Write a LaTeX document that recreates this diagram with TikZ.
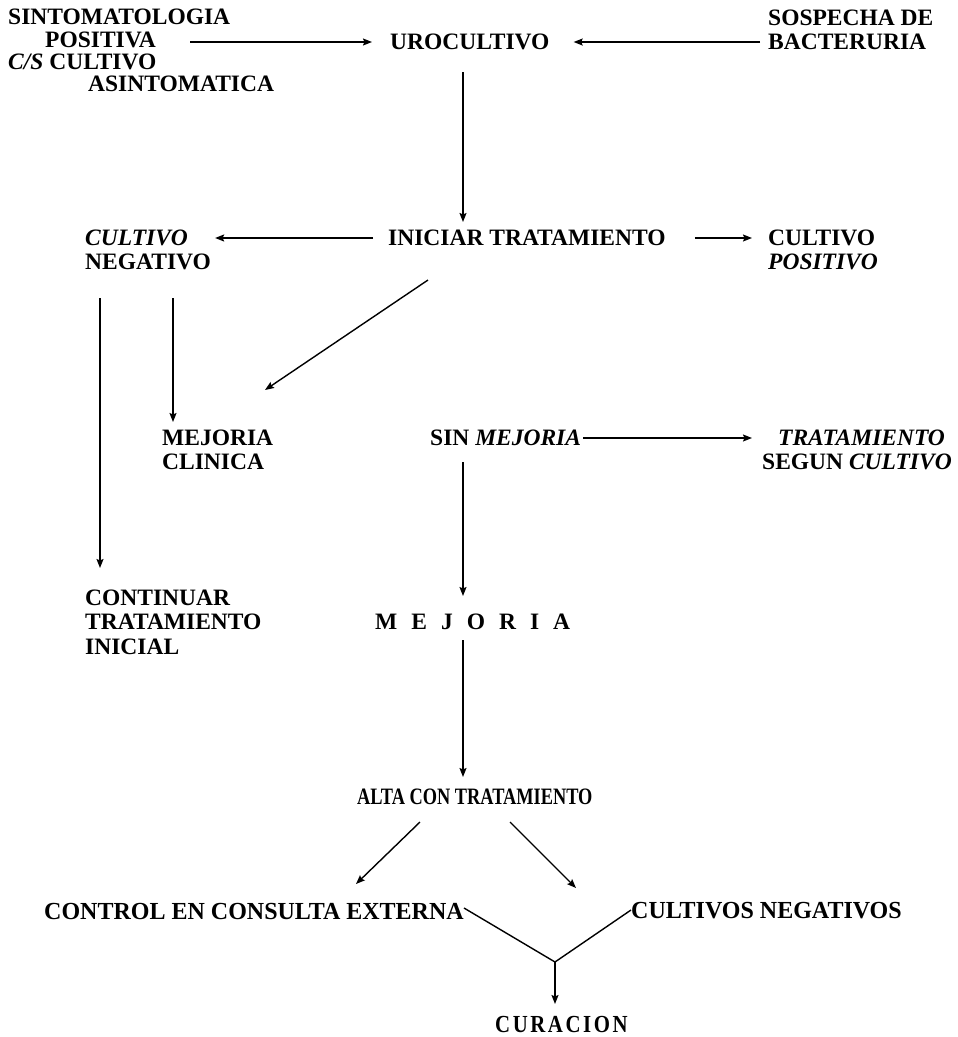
\documentclass[tikz,border=0pt]{standalone}
\usepackage{fontspec}
\setmainfont{Liberation Serif}
\usetikzlibrary{arrows.meta}
\begin{document}
\begin{tikzpicture}[x=1pt,y=-1pt,
  t/.style={font=\fontsize{23.5}{24.5}\selectfont\bfseries, inner sep=0pt, anchor=west, align=left},
  tb/.style={t, font=\fontsize{24.5}{26}\selectfont\bfseries},
  arr/.style={-{Stealth[length=9pt,width=7pt,inset=1.5pt]}, line width=1.4pt},
  ln/.style={line width=1.4pt}]
\useasboundingbox (0,0) rectangle (958,1037);
% top left block
\node[t] (s1) at (8,17) {SINTOMATOLOGIA};
\node[t] (s2) at (45,40) {POSITIVA};
\node[t] (s3) at (8,62) {\textit{C/S} CULTIVO};
\node[t] (s4) at (88,84) {ASINTOMATICA};
\node[t] (uro) at (390,42) {UROCULTIVO};
\node[t] (sos) at (768,30) {SOSPECHA DE\\BACTERURIA};
\node[t] (ini) at (388,238) {INICIAR TRATAMIENTO};
\node[t] (cneg) at (85,250) {\textit{CULTIVO}\\NEGATIVO};
\node[t] (cpos) at (768,250) {CULTIVO\\\textit{POSITIVO}};
\node[t] (mcl) at (162,450) {MEJORIA\\CLINICA};
\node[t] (sinm) at (430,438) {SIN \textit{MEJORIA}};
\node[t] (tsc) at (762,450) {\hspace*{16pt}\textit{TRATAMIENTO}\\SEGUN \textit{CULTIVO}};
\node[t] (cont) at (85,622) {CONTINUAR\\TRATAMIENTO\\INICIAL};
\node[t] (mej) at (375,622) {M\hspace{14pt}E\hspace{14pt}J\hspace{14pt}O\hspace{14pt}R\hspace{14pt}I\hspace{14pt}A};
\node[t] (alta) at (357,797) {\scalebox{0.78}[1]{ALTA CON TRATAMIENTO}};
\node[tb] (ctrl) at (44,911) {\scalebox{0.98}[1]{CONTROL EN CONSULTA EXTERNA}};
\node[tb] (cvn) at (631,911) {\scalebox{0.98}[1]{CULTIVOS NEGATIVOS}};
\node[tb] (cur) at (495,1024) {\scalebox{0.85}[1]{C\hspace{3pt}U\hspace{3pt}R\hspace{3pt}A\hspace{3pt}C\hspace{3pt}I\hspace{3pt}O\hspace{3pt}N}};
\coordinate (jn) at (555,962);
% connectors
\draw[arr] (190,42) -- ([xshift=-18pt]uro.west);
\draw[arr] ([xshift=-8pt]sos.west |- uro) -- ([xshift=24pt]uro.east);
\draw[arr] (463,72) -- (463,222);
\draw[arr] ([xshift=-15pt]ini.west) -- ([xshift=4pt]cneg.east |- ini);
\draw[arr] ([xshift=29pt]ini.east) -- ([xshift=-16pt]cpos.west |- ini);
\draw[arr] (100,298) -- (100,568);
\draw[arr] (173,298) -- (173,422);
\draw[arr] (428,280) -- (265,390);
\draw[arr] ([xshift=2pt]sinm.east) -- ([xshift=-10pt]tsc.west |- sinm);
\draw[arr] (463,462) -- (463,596);
\draw[arr] (463,640) -- (463,777);
\draw[arr] (420,822) -- (356,884);
\draw[arr] (510,822) -- (576,888);
\draw[ln] ([yshift=3pt]ctrl.east) -- (jn) -- ([yshift=1pt]cvn.west);
\draw[arr] (jn) -- (555,1004);
\end{tikzpicture}
\end{document}
